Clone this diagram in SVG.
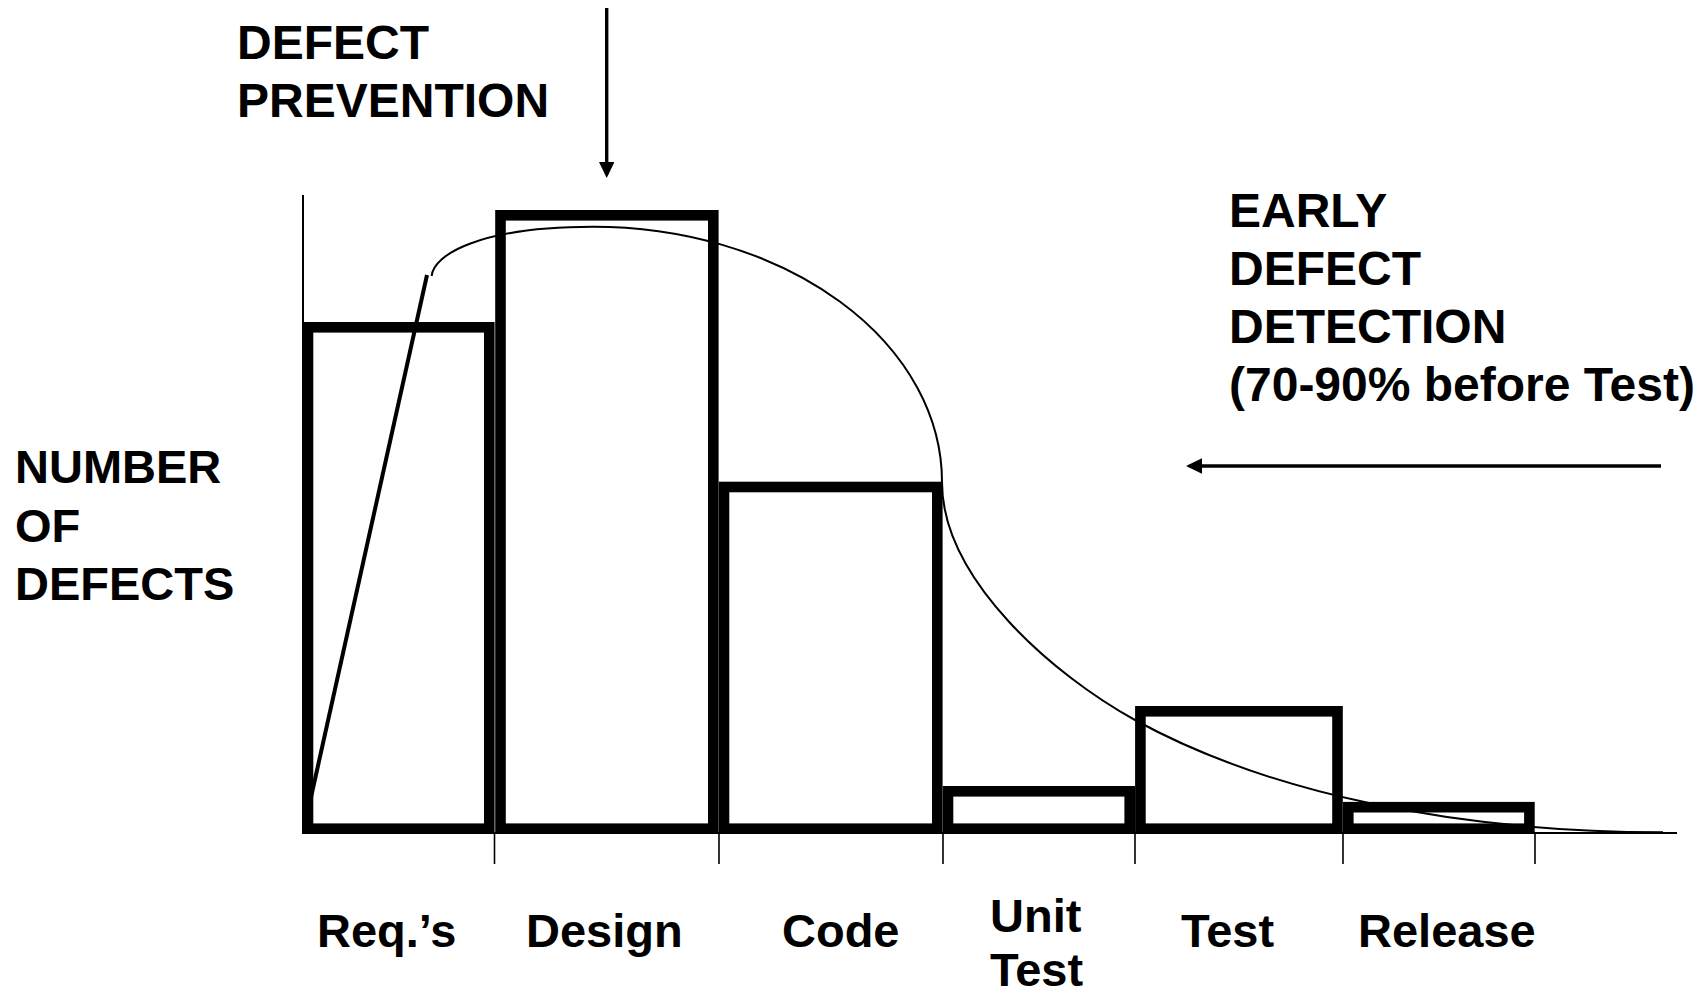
<svg xmlns="http://www.w3.org/2000/svg" width="1707" height="994" viewBox="0 0 1707 994">
<style>
text{font-family:"Liberation Sans",Arial,sans-serif;font-weight:bold;font-size:47px;fill:#000}
.big{font-size:48px}
.bar{fill:none;stroke:#000;stroke-width:10.6}
.axis{stroke:#000;stroke-width:2;fill:none}
.tick{stroke:#000;stroke-width:1.6}
.arrow{stroke:#000;stroke-width:3.4;fill:none}
</style>
<defs>
<marker id="ah" viewBox="0 0 16 15.5" refX="12.5" refY="7.75" markerWidth="16" markerHeight="15.5" markerUnits="userSpaceOnUse" orient="auto">
<path d="M0,0 L16,7.75 L0,15.5 z" fill="#000"/>
</marker>
</defs>
<rect width="1707" height="994" fill="#fff"/>
<g id="axes">
<line class="axis" x1="303" y1="195" x2="303" y2="834"/>
<line class="axis" x1="303" y1="833" x2="1677" y2="833"/>
<line class="tick" x1="494.5" y1="834" x2="494.5" y2="864"/>
<line class="tick" x1="719" y1="834" x2="719" y2="864"/>
<line class="tick" x1="943" y1="834" x2="943" y2="864"/>
<line class="tick" x1="1135" y1="834" x2="1135" y2="864"/>
<line class="tick" x1="1343" y1="834" x2="1343" y2="864"/>
<line class="tick" x1="1535" y1="834" x2="1535" y2="864"/>
</g>
<g id="bar-reqs"><rect class="bar" x="308" y="327.3" width="181.3" height="501.4"/></g>
<g id="bar-design"><rect class="bar" x="500.5" y="215.3" width="212.8" height="613.4"/></g>
<g id="bar-code"><rect class="bar" x="724" y="487" width="213.3" height="341.7"/></g>
<g id="bar-unittest"><rect class="bar" x="948" y="791.3" width="181.7" height="37.4"/></g>
<g id="bar-test"><rect class="bar" x="1140.4" y="711.3" width="197.1" height="117.4"/></g>
<g id="bar-release"><rect class="bar" x="1348.3" y="807.2" width="181.1" height="21.5"/></g>
<g id="connectors">
<line x1="305.5" y1="822" x2="427" y2="275" stroke="#000" stroke-width="4"/>
<path d="M431.7,276 C433,255 480,226.7 593,226.7 A349,255.3 0 0 1 942,482 C942,580 1055,676 1135,720 C1265,791.5 1450,832 1663,832.3" fill="none" stroke="#000" stroke-width="2"/>
<line class="arrow" x1="606.7" y1="8" x2="606.7" y2="174.5" marker-end="url(#ah)"/>
<line class="arrow" x1="1661" y1="466" x2="1189.5" y2="466" marker-end="url(#ah)"/>
</g>
<g id="label-prevention" class="big">
<text class="big" x="237" y="59">DEFECT</text>
<text class="big" x="237" y="117">PREVENTION</text>
</g>
<g id="label-number">
<text x="15" y="483">NUMBER</text>
<text x="15" y="541.5">OF</text>
<text x="15" y="600">DEFECTS</text>
</g>
<g id="label-detection">
<text class="big" x="1229" y="227">EARLY</text>
<text class="big" x="1229" y="285">DEFECT</text>
<text class="big" x="1229" y="343">DETECTION</text>
<text class="big" x="1229" y="401">(70-90% before Test)</text>
</g>
<g id="phase-labels">
<text x="317" y="947">Req.’s</text>
<text x="526" y="947">Design</text>
<text x="782" y="947">Code</text>
<text x="990" y="932">Unit</text>
<text x="990" y="986">Test</text>
<text x="1181" y="947">Test</text>
<text x="1358" y="947">Release</text>
</g>
</svg>
